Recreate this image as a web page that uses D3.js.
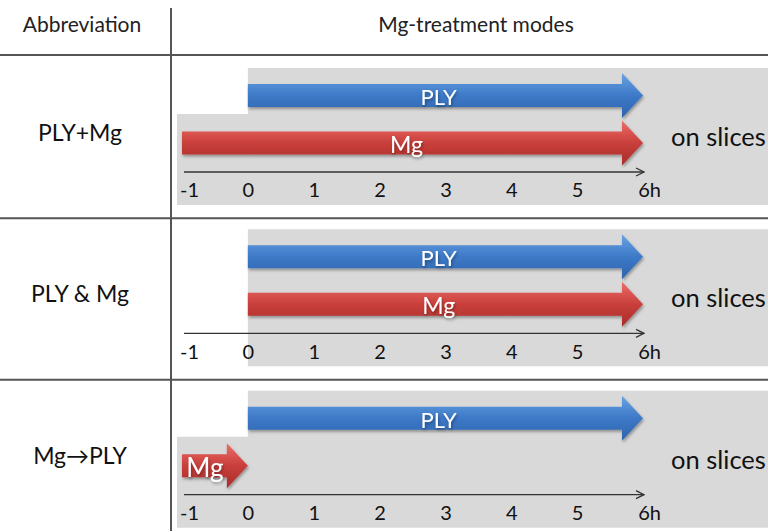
<!DOCTYPE html>
<html>
<head>
<meta charset="utf-8">
<script src="https://cdn.jsdelivr.net/npm/d3@7"></script>
<style>
  body { margin: 0; background: #fff; }
  svg { display: block; font-family: Lato, "Open Sans", sans-serif; }
</style>
</head>
<body>
<div id="chart"></div>
<script>
// chart data
var rowLabels = ["PLY+Mg", "PLY & Mg", "Mg\u2192PLY"];
var plyStart = [0, 0, 0];
var plyEnd = [6, 6, 6];
var mgStart = [-1, 0, -1];
var mgEnd = [6, 6, 0];
var tickValues = [-1, 0, 1, 2, 3, 4, 5, 6];
var tickLabels = ["-1", "0", "1", "2", "3", "4", "5", "6h"];
var condition = "on slices";
var headers = ["Abbreviation", "Mg-treatment modes"];

var width = 768, height = 531;

var svg = d3.select("#chart")
  .append("svg")
    .attr("width", width)
    .attr("height", height);

var defs = svg.append("defs");

function grad(id, c1, c2, c3) {
  var g = defs.append("linearGradient")
    .attr("id", id)
    .attr("x1", 0).attr("y1", 0).attr("x2", 0).attr("y2", 1);
  g.append("stop").attr("offset", "0%").attr("stop-color", c1);
  g.append("stop").attr("offset", "50%").attr("stop-color", c2);
  g.append("stop").attr("offset", "100%").attr("stop-color", c3);
}
grad("blueGrad", "#6aa3e4", "#3d79c7", "#2e63ad");
grad("redGrad", "#ee6d69", "#c93f3b", "#a92d2a");

var shadow = defs.append("filter").attr("id", "shadow")
  .attr("x", "-10%").attr("y", "-20%").attr("width", "130%").attr("height", "160%");
shadow.append("feDropShadow")
  .attr("dx", 1).attr("dy", 2).attr("stdDeviation", 1.5)
  .attr("flood-color", "#000").attr("flood-opacity", 0.35);

defs.append("marker")
  .attr("id", "axisArrow")
  .attr("viewBox", "0 0 10 10")
  .attr("refX", 9).attr("refY", 5)
  .attr("markerWidth", 10).attr("markerHeight", 10)
  .attr("markerUnits", "userSpaceOnUse")
  .attr("orient", "auto")
  .append("path")
    .attr("d", "M1,1 L9,5 L1,9")
    .attr("fill", "none")
    .attr("stroke", "#333")
    .attr("stroke-width", 1.3);

// scales
var x = d3.scaleLinear().domain([-1, 6]).range([182, 643]);
var y = d3.scaleBand().domain(rowLabels).range([55, 539]);

// table lines
svg.append("line")
  .attr("x1", 0).attr("x2", width).attr("y1", 55).attr("y2", 55)
  .attr("stroke", "#555").attr("stroke-width", 2);
svg.append("line")
  .attr("x1", 171).attr("x2", 171).attr("y1", 8).attr("y2", height)
  .attr("stroke", "#555").attr("stroke-width", 2);

svg.append("text")
  .attr("x", 82).attr("y", 23)
  .attr("text-anchor", "middle").attr("dominant-baseline", "central")
  .attr("font-size", 21).attr("fill", "#222")
  .text(headers[0]);
svg.append("text")
  .attr("x", 476).attr("y", 23)
  .attr("text-anchor", "middle").attr("dominant-baseline", "central")
  .attr("font-size", 21).attr("fill", "#222")
  .text(headers[1]);

var headLen = 21;
function arrowPath(x0, x1, cy) {
  var bh = 11.5, hh = 22.5;
  var xb = Math.max(x0, x1 - headLen);
  return "M" + x0 + "," + (cy - bh) +
    "L" + xb + "," + (cy - bh) +
    "L" + xb + "," + (cy - hh) +
    "L" + x1 + "," + cy +
    "L" + xb + "," + (cy + hh) +
    "L" + xb + "," + (cy + bh) +
    "L" + x0 + "," + (cy + bh) + "Z";
}
function labelX(x0, x1) {
  return x0 + 0.51 * (x1 - headLen - x0);
}

rowLabels.forEach(function(label, i) {
  var top = y(label);
  var g = svg.append("g");

  // separator above rows 2 and 3
  if (i > 0) {
    g.append("line")
      .attr("x1", 0).attr("x2", width)
      .attr("y1", top + 2).attr("y2", top + 2)
      .attr("stroke", "#555").attr("stroke-width", 2);
  }

  // gray background (stepped where Mg starts before PLY)
  var gx0 = x(plyStart[i]), gx1 = x(Math.min(mgStart[i], plyStart[i])) - 5;
  var gTop = top + 13, gStep = top + 59, gBot = top + 150;
  var bg;
  if (mgStart[i] < plyStart[i]) {
    bg = "M" + gx0 + "," + gTop + "L" + width + "," + gTop + "L" + width + "," + gBot +
      "L" + gx1 + "," + gBot + "L" + gx1 + "," + gStep + "L" + gx0 + "," + gStep + "Z";
  } else {
    bg = "M" + gx0 + "," + gTop + "L" + width + "," + gTop + "L" + width + "," + gBot +
      "L" + gx0 + "," + gBot + "Z";
  }
  g.append("path").attr("d", bg).attr("fill", "#d9d9d9");

  // row label
  g.append("text")
    .attr("x", 80).attr("y", top + 77)
    .attr("text-anchor", "middle").attr("dominant-baseline", "central")
    .attr("font-size", 23).attr("fill", "#111")
    .text(label);

  // PLY arrow
  var by = top + 40.5;
  g.append("path")
    .attr("d", arrowPath(x(plyStart[i]), x(plyEnd[i]), by))
    .attr("fill", "url(#blueGrad)")
    .attr("filter", "url(#shadow)");
  g.append("text")
    .attr("x", labelX(x(plyStart[i]), x(plyEnd[i])))
    .attr("y", by + 1)
    .attr("text-anchor", "middle").attr("dominant-baseline", "central")
    .attr("font-size", 22).attr("fill", "#fff")
    .attr("filter", "url(#shadow)")
    .text("PLY");

  // Mg arrow
  var ry = top + 88;
  g.append("path")
    .attr("d", arrowPath(x(mgStart[i]), x(mgEnd[i]), ry))
    .attr("fill", "url(#redGrad)")
    .attr("filter", "url(#shadow)");
  g.append("text")
    .attr("x", labelX(x(mgStart[i]), x(mgEnd[i])))
    .attr("y", ry + 1)
    .attr("text-anchor", "middle").attr("dominant-baseline", "central")
    .attr("font-size", mgEnd[i] - mgStart[i] < 2 ? 26 : 23).attr("fill", "#fff")
    .attr("filter", "url(#shadow)")
    .text("Mg");

  // time axis
  var ax = g.append("g")
    .attr("transform", "translate(0," + (top + 117) + ")")
    .call(d3.axisBottom(x)
      .tickValues(tickValues)
      .tickFormat(function(d, j) { return tickLabels[j]; })
      .tickSize(0)
      .tickPadding(11));
  ax.select(".domain")
    .attr("stroke", "#333").attr("stroke-width", 1.3)
    .attr("d", "M" + (x(-1) + 2) + ",0H" + (x(6) + 1))
    .attr("marker-end", "url(#axisArrow)");
  ax.selectAll("text")
    .attr("font-family", "Lato, sans-serif")
    .attr("font-size", 20)
    .attr("fill", "#111")
    .attr("dx", function(d) { return d === 6 ? "0.3em" : (d === -1 ? "0.35em" : 0); });

  // condition
  g.append("text")
    .attr("x", 671).attr("y", top + 81)
    .attr("dominant-baseline", "central")
    .attr("font-size", 25.5).attr("fill", "#111")
    .text(condition);
});
</script>
</body>
</html>
